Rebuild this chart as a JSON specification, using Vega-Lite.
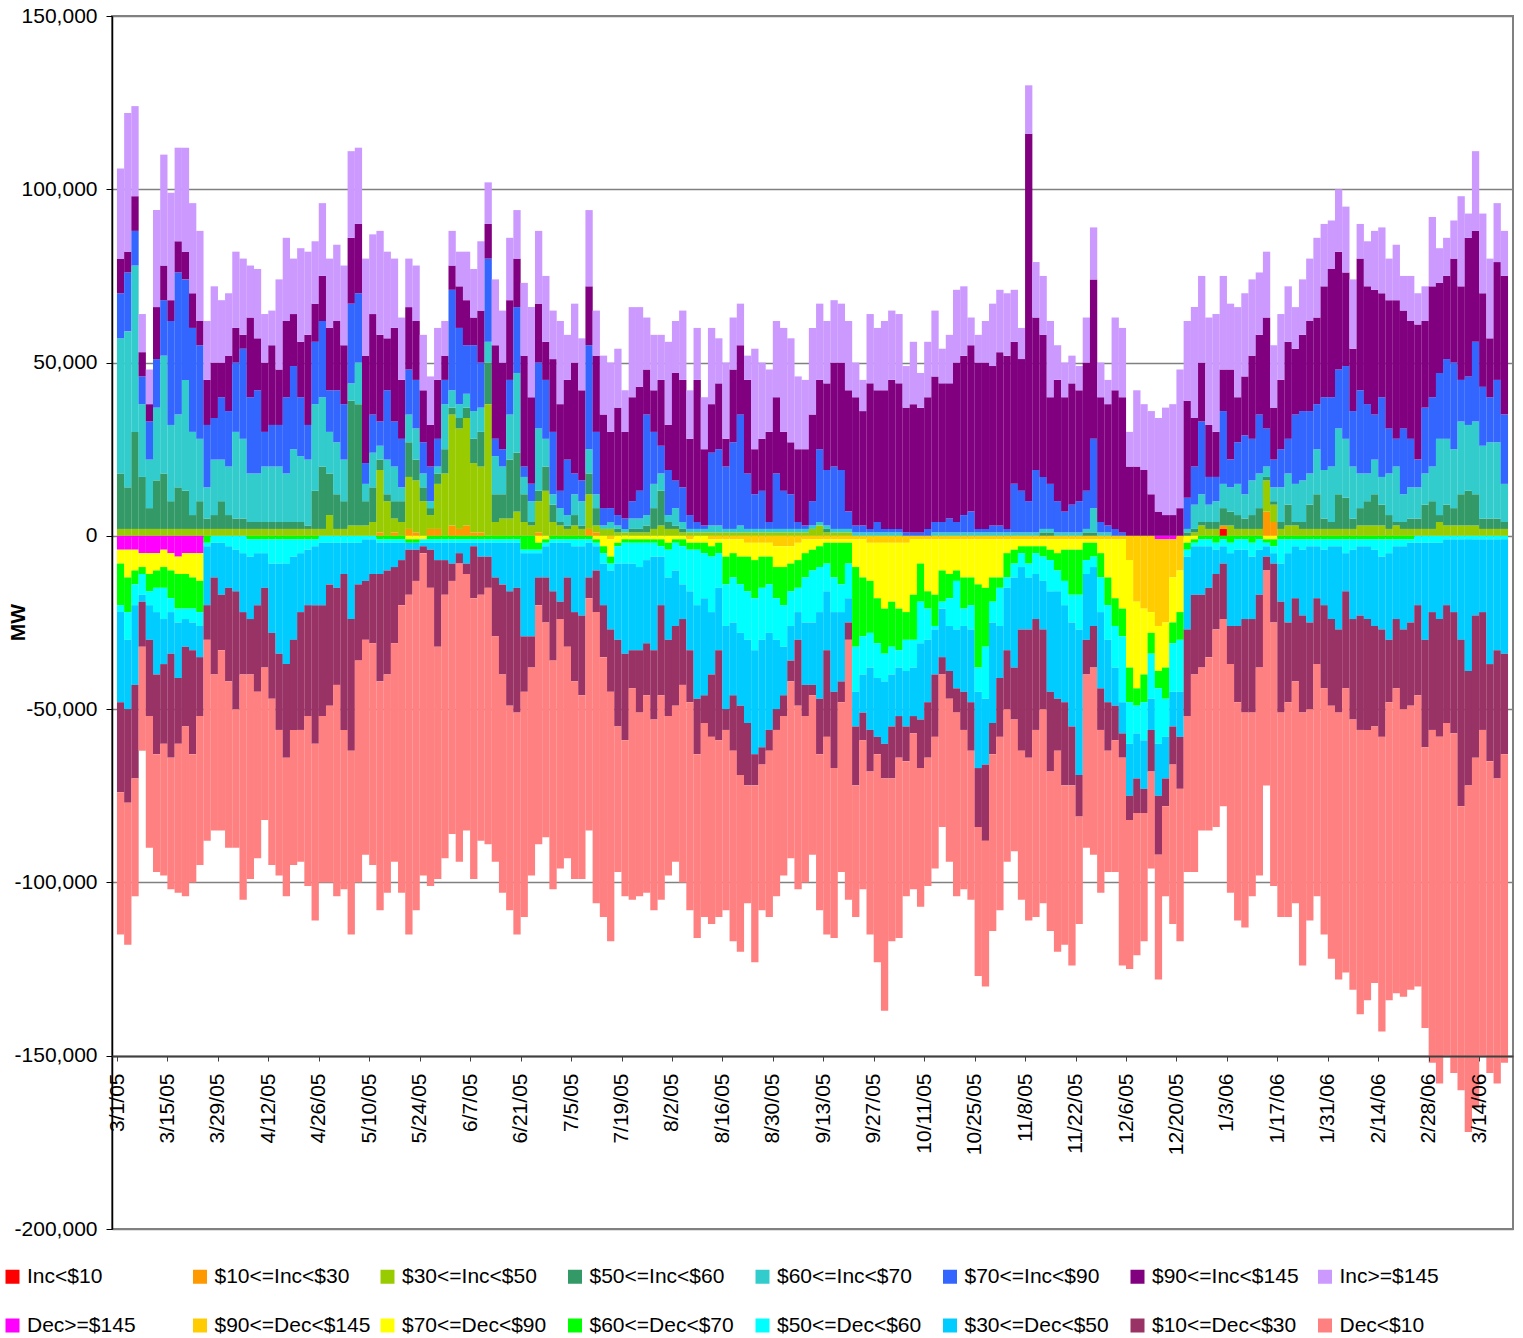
{
"$schema":"https://vega.github.io/schema/vega-lite/v6.json",
"width":1401,"height":1213,
"autosize":{"type":"none"},
"padding":{"left":112,"top":16,"right":10,"bottom":109},
"background":"white",
"config":{"font":"Liberation Sans","view":{"stroke":"#808080","strokeWidth":2},
"locale":{"number":{"decimal":".","thousands":",","grouping":[3],"currency":["$",""],"minus":"-"}}},
"data":{"values":[
{"t":"2005-03-02","c":2,"d":16,"e":39,"f":13,"g":10,"h":26,"i":-4,"k":-4,"l":-12,"m":-2,"n":-26,"o":-26,"p":-41},
{"t":"2005-03-04","c":2,"d":12,"e":45,"f":17,"g":6,"h":40,"i":-4,"k":-8,"l":-10,"m":-8,"n":-20,"o":-27,"p":-41},
{"t":"2005-03-06","c":2,"d":28,"e":48,"f":10,"g":10,"h":26,"i":-4,"k":-6,"l":-4,"m":-6,"n":-23,"o":-27,"p":-34},
{"t":"2005-03-08","c":2,"d":15,"e":21,"f":8,"g":7,"h":11,"i":-5,"k":-4,"l":-2,"m":-6,"n":-2,"o":-13,"p":-30},
{"t":"2005-03-10","c":2,"d":6,"e":14,"f":11,"g":5,"h":10,"i":-5,"k":-6,"l":-5,"m":-4,"n":-10,"o":-22,"p":-38},
{"t":"2005-03-12","c":2,"d":14,"e":21,"f":14,"g":15,"h":28,"i":-5,"k":-5,"l":-5,"m":-7,"n":-18,"o":-23,"p":-34},
{"t":"2005-03-14","c":2,"d":16,"e":34,"f":16,"g":10,"h":32,"i":-4,"k":-5,"l":-6,"m":-9,"n":-13,"o":-23,"p":-38},
{"t":"2005-03-16","c":2,"d":8,"e":22,"f":30,"g":6,"h":31,"i":-5,"k":-5,"l":-8,"m":-4,"n":-12,"o":-30,"p":-38},
{"t":"2005-03-18","c":2,"d":12,"e":21,"f":41,"g":9,"h":27,"i":-6,"k":-5,"l":-10,"m":-4,"n":-16,"o":-19,"p":-43},
{"t":"2005-03-20","c":2,"d":11,"e":32,"f":29,"g":8,"h":30,"i":-5,"k":-6,"l":-10,"m":-3,"n":-8,"o":-23,"p":-49},
{"t":"2005-03-22","c":2,"d":4,"e":24,"f":30,"g":10,"h":26,"i":-5,"k":-7,"l":-9,"m":-4,"n":-8,"o":-30,"p":-37},
{"t":"2005-03-24","c":2,"d":8,"e":18,"f":27,"g":7,"h":26,"i":-5,"k":-8,"l":-9,"m":-4,"n":-9,"o":-17,"p":-43},
{"t":"2005-03-26","c":2,"d":3,"e":9,"f":18,"g":13,"h":17,"l":-2,"m":-1,"n":-17,"o":-10,"p":-58},
{"t":"2005-03-28","c":2,"d":4,"e":16,"f":12,"g":16,"h":22,"m":-2,"n":-10,"o":-28,"p":-45},
{"t":"2005-03-30","c":2,"d":8,"e":12,"f":18,"g":10,"h":18,"m":-2,"n":-15,"o":-16,"p":-52},
{"t":"2005-04-01","c":2,"d":4,"e":14,"f":16,"g":16,"h":18,"m":-3,"n":-12,"o":-27,"p":-48},
{"t":"2005-04-03","c":2,"d":3,"e":25,"f":20,"g":10,"h":22,"m":-4,"n":-12,"o":-34,"p":-40},
{"t":"2005-04-05","c":2,"d":3,"e":23,"f":26,"g":4,"h":22,"m":-5,"n":-17,"o":-18,"p":-65},
{"t":"2005-04-07","c":2,"d":2,"e":14,"f":22,"g":23,"h":15,"l":-1,"m":-5,"n":-18,"o":-16,"p":-59},
{"t":"2005-04-09","c":2,"d":2,"e":14,"f":24,"g":15,"h":20,"l":-1,"m":-4,"n":-15,"o":-25,"p":-48},
{"t":"2005-04-11","c":2,"d":2,"e":16,"f":10,"g":20,"h":14,"l":-1,"m":-4,"n":-10,"o":-23,"p":-44},
{"t":"2005-04-13","c":2,"d":2,"e":16,"f":12,"g":23,"h":10,"l":-1,"m":-7,"n":-20,"o":-19,"p":-48},
{"t":"2005-04-15","c":2,"d":2,"e":16,"f":12,"g":16,"h":26,"l":-1,"m":-7,"n":-26,"o":-22,"p":-42},
{"t":"2005-04-17","c":2,"d":2,"e":14,"f":22,"g":22,"h":24,"l":-1,"m":-7,"n":-29,"o":-27,"p":-40},
{"t":"2005-04-19","c":2,"d":2,"e":21,"f":24,"g":15,"h":16,"l":-1,"m":-5,"n":-24,"o":-26,"p":-39},
{"t":"2005-04-21","c":2,"d":2,"e":19,"f":17,"g":16,"h":27,"l":-1,"m":-4,"n":-17,"o":-34,"p":-38},
{"t":"2005-04-23","c":2,"d":1,"e":19,"f":10,"g":26,"h":24,"l":-1,"m":-3,"n":-16,"o":-32,"p":-49},
{"t":"2005-04-25","c":2,"d":11,"e":25,"f":18,"g":11,"h":18,"l":-1,"m":-2,"n":-17,"o":-40,"p":-51},
{"t":"2005-04-27","c":2,"d":18,"e":20,"f":22,"g":13,"h":21,"m":-2,"n":-18,"o":-32,"p":-48},
{"t":"2005-04-29","c":6,"d":12,"e":12,"f":12,"g":18,"h":20,"m":-2,"n":-12,"o":-35,"p":-51},
{"t":"2005-05-01","c":2,"d":10,"e":15,"f":15,"g":20,"h":22,"m":-2,"n":-13,"o":-28,"p":-61},
{"t":"2005-05-03","c":2,"d":8,"e":12,"f":16,"g":17,"h":23,"m":-2,"n":-9,"o":-45,"p":-46},
{"t":"2005-05-05","c":3,"d":36,"e":5,"f":23,"g":19,"h":25,"m":-2,"n":-22,"o":-38,"p":-53},
{"t":"2005-05-07","c":3,"d":35,"e":12,"f":20,"g":20,"h":22,"m":-2,"n":-12,"o":-22,"p":-64},
{"t":"2005-05-09","c":3,"d":7,"e":5,"f":6,"g":31,"h":28,"m":-1,"n":-12,"o":-17,"p":-62},
{"t":"2005-05-11","c":4,"d":10,"e":10,"f":11,"g":29,"h":23,"m":-1,"n":-10,"o":-20,"p":-64},
{"t":"2005-05-13","b":1,"c":18,"d":3,"e":4,"f":7,"g":25,"h":30,"l":-1,"m":-1,"n":-9,"o":-31,"p":-66},
{"t":"2005-05-15","c":10,"d":2,"e":10,"f":20,"g":15,"h":25,"l":-1,"m":-1,"n":-8,"o":-30,"p":-63},
{"t":"2005-05-17","b":1,"c":4,"d":5,"e":10,"f":13,"g":27,"h":20,"l":-1,"m":-1,"n":-7,"o":-22,"p":-63},
{"t":"2005-05-19","c":4,"d":6,"e":4,"f":14,"g":17,"h":18,"l":-1,"m":-1,"n":-5,"o":-13,"p":-83},
{"t":"2005-05-21","b":2,"c":15,"d":10,"e":8,"f":13,"g":18,"h":14,"k":-1,"l":-1,"n":-2,"o":-13,"p":-98},
{"t":"2005-05-23","b":1,"c":15,"d":6,"e":9,"f":14,"g":17,"h":16,"k":-1,"l":-1,"n":-2,"o":-9,"p":-95},
{"t":"2005-05-25","c":10,"d":4,"e":4,"f":9,"g":15,"h":16,"k":-1,"m":-1,"n":-1,"o":-2,"p":-93},
{"t":"2005-05-27","b":2,"c":4,"d":2,"e":2,"f":10,"g":12,"h":14,"l":-1,"m":-1,"n":-2,"o":-11,"p":-86},
{"t":"2005-05-29","b":2,"c":13,"d":3,"e":2,"f":8,"g":17,"h":15,"l":-1,"m":-1,"n":-5,"o":-25,"p":-67},
{"t":"2005-05-31","c":18,"d":7,"e":13,"f":7,"g":7,"h":10,"l":-1,"m":-1,"n":-5,"o":-10,"p":-76},
{"t":"2005-06-02","b":3,"c":32,"d":2,"e":5,"f":29,"g":7,"h":10,"l":-1,"m":-1,"n":-6,"o":-5,"p":-73},
{"t":"2005-06-04","b":2,"c":29,"d":3,"e":4,"f":22,"g":12,"h":10,"l":-1,"m":-1,"n":-3,"o":-3,"p":-86},
{"t":"2005-06-06","b":3,"c":31,"d":3,"e":4,"f":14,"g":13,"h":14,"l":-1,"m":-1,"n":-6,"o":-3,"p":-74},
{"t":"2005-06-08","b":1,"c":20,"d":7,"e":8,"f":19,"g":8,"h":14,"l":-1,"m":-1,"n":-1,"o":-15,"p":-81},
{"t":"2005-06-10","b":1,"c":19,"d":10,"e":7,"f":13,"g":15,"h":20,"l":-1,"m":-1,"n":-4,"o":-11,"p":-71},
{"t":"2005-06-12","c":38,"d":12,"e":6,"f":24,"g":10,"h":12,"l":-1,"m":-1,"n":-4,"o":-9,"p":-74},
{"t":"2005-06-14","c":4,"d":8,"e":11,"f":5,"g":27,"h":19,"l":-1,"m":-1,"n":-10,"o":-17,"p":-65},
{"t":"2005-06-16","c":5,"d":7,"e":8,"f":5,"g":25,"h":15,"l":-1,"m":-1,"n":-12,"o":-26,"p":-63},
{"t":"2005-06-18","c":5,"d":17,"e":13,"f":10,"g":23,"h":18,"l":-1,"m":-1,"n":-14,"o":-33,"p":-59},
{"t":"2005-06-20","c":7,"d":17,"e":23,"f":19,"g":14,"h":14,"l":-1,"m":-1,"n":-13,"o":-36,"p":-64},
{"t":"2005-06-22","c":4,"d":8,"e":5,"f":3,"g":32,"h":21,"l":-4,"m":-1,"n":-24,"o":-16,"p":-65},
{"t":"2005-06-24","c":3,"d":1,"e":6,"f":5,"g":25,"h":26,"l":-4,"m":-1,"n":-24,"o":-9,"p":-60},
{"t":"2005-06-26","b":1,"c":9,"d":3,"e":18,"f":19,"g":17,"h":21,"k":-2,"l":-2,"m":-1,"n":-7,"o":-8,"p":-69},
{"t":"2005-06-28","c":13,"d":7,"e":8,"f":17,"g":11,"h":19,"k":-1,"l":-1,"m":-1,"n":-9,"o":-13,"p":-62},
{"t":"2005-06-30","c":4,"d":5,"e":3,"f":18,"g":21,"h":14,"l":-1,"m":-1,"n":-14,"o":-20,"p":-66},
{"t":"2005-07-02","c":3,"d":1,"e":4,"f":5,"g":25,"h":24,"l":-1,"m":-1,"n":-17,"o":-5,"p":-72},
{"t":"2005-07-04","c":2,"d":1,"e":3,"f":16,"g":23,"h":13,"l":-1,"m":-1,"n":-10,"o":-20,"p":-61},
{"t":"2005-07-06","c":3,"d":3,"e":6,"f":6,"g":32,"h":17,"l":-1,"m":-2,"n":-19,"o":-20,"p":-57},
{"t":"2005-07-08","c":2,"d":1,"e":7,"f":6,"g":26,"h":15,"l":-1,"m":-2,"n":-20,"o":-23,"p":-53},
{"t":"2005-07-10","b":2,"c":10,"d":6,"e":7,"f":30,"g":17,"h":22,"l":-1,"m":-1,"n":-10,"o":-6,"p":-67},
{"t":"2005-07-12","b":1,"c":2,"d":5,"e":4,"f":18,"g":22,"h":13,"k":-1,"l":-1,"m":-1,"n":-7,"o":-12,"p":-84},
{"t":"2005-07-14","c":2,"e":1,"f":5,"g":27,"h":17,"k":-3,"l":-2,"m":-3,"n":-12,"o":-15,"p":-75},
{"t":"2005-07-16","c":2,"e":2,"f":4,"g":22,"h":20,"j":-1,"k":-5,"l":-2,"m":-2,"n":-17,"o":-18,"p":-72},
{"t":"2005-07-18","c":1,"d":1,"e":1,"f":3,"g":31,"h":17,"k":-2,"l":-1,"m":-5,"n":-22,"o":-25,"p":-42},
{"t":"2005-07-20","c":1,"e":1,"f":3,"g":25,"h":12,"k":-1,"l":-1,"m":-6,"n":-26,"o":-25,"p":-45},
{"t":"2005-07-22","c":1,"d":1,"e":3,"f":5,"g":30,"h":26,"k":-1,"l":-1,"m":-6,"n":-25,"o":-11,"p":-61},
{"t":"2005-07-24","c":1,"d":1,"e":3,"f":8,"g":30,"h":23,"k":-1,"l":-1,"m":-7,"n":-24,"o":-18,"p":-53},
{"t":"2005-07-26","c":1,"d":2,"e":3,"f":29,"g":13,"h":15,"k":-1,"l":-1,"m":-5,"n":-24,"o":-15,"p":-57},
{"t":"2005-07-28","c":2,"d":6,"e":7,"f":15,"g":12,"h":16,"k":-1,"l":-1,"m":-4,"n":-27,"o":-20,"p":-55},
{"t":"2005-07-30","c":3,"d":10,"e":5,"f":8,"g":19,"h":13,"k":-1,"l":-2,"m":-3,"n":-14,"o":-26,"p":-59},
{"t":"2005-08-01","c":2,"d":2,"e":2,"f":13,"g":13,"h":24,"k":-2,"l":-2,"m":-8,"n":-18,"o":-22,"p":-46},
{"t":"2005-08-03","c":2,"d":1,"e":5,"f":8,"g":31,"h":15,"k":-1,"l":-1,"m":-8,"n":-16,"o":-23,"p":-45},
{"t":"2005-08-05","c":1,"d":1,"e":2,"f":10,"g":31,"h":20,"k":-1,"l":-2,"m":-11,"n":-10,"o":-19,"p":-57},
{"t":"2005-08-07","c":1,"e":1,"f":4,"g":22,"h":14,"j":-1,"k":-1,"l":-2,"m":-12,"n":-17,"o":-15,"p":-60},
{"t":"2005-08-09","c":1,"e":1,"f":2,"g":41,"h":15,"k":-2,"l":-2,"m":-16,"n":-27,"o":-16,"p":-53},
{"t":"2005-08-11","c":1,"e":1,"f":1,"g":22,"h":15,"k":-2,"l":-3,"m":-13,"n":-28,"o":-8,"p":-56},
{"t":"2005-08-13","c":1,"e":2,"f":21,"g":14,"h":22,"j":-1,"k":-2,"l":-3,"m":-16,"n":-18,"o":-18,"p":-54},
{"t":"2005-08-15","c":1,"e":2,"f":22,"g":19,"h":13,"j":-1,"k":-1,"l":-3,"m":-10,"n":-18,"o":-26,"p":-51},
{"t":"2005-08-17","c":1,"e":1,"f":18,"g":8,"h":22,"j":-1,"k":-5,"l":-8,"m":-12,"n":-24,"o":-6,"p":-52},
{"t":"2005-08-19","c":1,"e":1,"f":25,"g":21,"h":15,"j":-1,"k":-4,"l":-7,"m":-13,"n":-21,"o":-16,"p":-55},
{"t":"2005-08-21","c":1,"e":2,"f":32,"g":20,"h":12,"j":-1,"k":-5,"l":-8,"m":-14,"n":-21,"o":-20,"p":-51},
{"t":"2005-08-23","c":1,"e":1,"f":16,"g":27,"h":7,"j":-2,"k":-4,"l":-10,"m":-14,"n":-24,"o":-18,"p":-34},
{"t":"2005-08-25","c":1,"e":1,"f":10,"g":13,"h":29,"j":-2,"k":-5,"l":-11,"m":-15,"n":-30,"o":-9,"p":-51},
{"t":"2005-08-27","c":1,"e":1,"f":11,"g":15,"h":22,"j":-2,"k":-4,"l":-9,"m":-15,"n":-31,"o":-5,"p":-42},
{"t":"2005-08-29","c":1,"e":1,"f":2,"g":26,"h":18,"j":-2,"k":-4,"l":-8,"m":-14,"n":-28,"o":-6,"p":-48},
{"t":"2005-08-31","c":1,"e":1,"f":16,"g":22,"h":22,"j":-3,"k":-6,"l":-9,"m":-12,"n":-20,"o":-6,"p":-48},
{"t":"2005-09-02","c":1,"e":1,"f":11,"g":17,"h":30,"j":-3,"k":-6,"l":-11,"m":-12,"n":-14,"o":-6,"p":-46},
{"t":"2005-09-04","c":1,"e":1,"f":10,"g":15,"h":30,"j":-3,"k":-5,"l":-8,"m":-10,"n":-10,"o":-6,"p":-51},
{"t":"2005-09-06","c":1,"e":1,"f":2,"g":21,"h":21,"j":-2,"k":-5,"l":-8,"m":-7,"n":-8,"o":-19,"p":-53},
{"t":"2005-09-08","c":1,"e":1,"f":1,"g":22,"h":20,"j":-1,"k":-4,"l":-7,"m":-13,"n":-18,"o":-9,"p":-48},
{"t":"2005-09-10","c":2,"e":1,"f":7,"g":25,"h":25,"j":-1,"k":-3,"l":-6,"m":-15,"n":-18,"o":-3,"p":-46},
{"t":"2005-09-12","c":3,"e":1,"f":21,"g":20,"h":22,"j":-1,"k":-2,"l":-6,"m":-13,"n":-25,"o":-16,"p":-45},
{"t":"2005-09-14","c":1,"d":1,"e":1,"f":16,"g":25,"h":18,"j":-1,"k":-1,"l":-6,"m":-8,"n":-17,"o":-25,"p":-57},
{"t":"2005-09-16","c":1,"e":1,"f":18,"g":30,"h":18,"j":-1,"k":-1,"l":-10,"m":-10,"n":-23,"o":-22,"p":-49},
{"t":"2005-09-18","c":1,"e":1,"f":17,"g":31,"h":17,"j":-1,"k":-1,"l":-12,"m":-8,"n":-20,"o":-6,"p":-49},
{"t":"2005-09-20","c":1,"e":1,"f":5,"g":35,"h":20,"j":-1,"k":-1,"l":-6,"m":-10,"n":-7,"o":-5,"p":-75},
{"t":"2005-09-22","e":1,"f":2,"g":37,"h":10,"j":-1,"k":-8,"l":-23,"m":-13,"n":-10,"o":-17,"p":-38},
{"t":"2005-09-24","e":1,"f":2,"g":33,"h":9,"j":-1,"k":-11,"l":-17,"m":-11,"n":-11,"o":-8,"p":-43},
{"t":"2005-09-26","e":1,"f":1,"g":42,"h":20,"j":-2,"k":-11,"l":-15,"m":-10,"n":-18,"o":-12,"p":-47},
{"t":"2005-09-28","e":1,"f":3,"g":38,"h":18,"j":-2,"k":-16,"l":-13,"m":-10,"n":-17,"o":-5,"p":-60},
{"t":"2005-09-30","e":1,"f":1,"g":40,"h":20,"j":-2,"k":-19,"l":-13,"m":-8,"n":-18,"o":-10,"p":-67},
{"t":"2005-10-02","e":1,"f":1,"g":43,"h":20,"j":-2,"k":-17,"l":-13,"m":-8,"n":-15,"o":-15,"p":-47},
{"t":"2005-10-04","e":1,"f":1,"g":42,"h":20,"j":-2,"k":-19,"l":-12,"m":-5,"n":-14,"o":-12,"p":-52},
{"t":"2005-10-06","f":1,"g":36,"h":12,"j":-2,"k":-20,"l":-8,"m":-9,"n":-16,"o":-10,"p":-39},
{"t":"2005-10-08","f":1,"g":37,"h":18,"j":-1,"k":-16,"l":-13,"m":-8,"n":-14,"o":-5,"p":-45},
{"t":"2005-10-10","f":1,"g":36,"h":10,"j":-1,"k":-7,"l":-11,"m":-12,"n":-22,"o":-14,"p":-40},
{"t":"2005-10-12","f":2,"g":38,"h":16,"j":-1,"k":-15,"l":-5,"m":-9,"n":-18,"o":-16,"p":-37},
{"t":"2005-10-14","e":1,"f":3,"g":42,"h":19,"j":-1,"k":-16,"l":-9,"m":-1,"n":-13,"o":-18,"p":-38},
{"t":"2005-10-16","e":1,"f":3,"g":40,"h":10,"j":-1,"k":-9,"l":-9,"m":-2,"n":-14,"o":-5,"p":-44},
{"t":"2005-10-18","e":1,"f":4,"g":39,"h":14,"j":-1,"k":-10,"l":-7,"m":-8,"n":-13,"o":-8,"p":-47},
{"t":"2005-10-20","e":1,"f":3,"g":46,"h":21,"j":-1,"k":-9,"l":-3,"m":-14,"n":-17,"o":-7,"p":-53},
{"t":"2005-10-22","e":1,"f":5,"g":46,"h":20,"j":-1,"k":-11,"l":-9,"m":-5,"n":-19,"o":-11,"p":-46},
{"t":"2005-10-24","e":1,"f":6,"g":48,"h":8,"j":-1,"k":-11,"l":-8,"m":-7,"n":-21,"o":-14,"p":-43},
{"t":"2005-10-26","e":1,"f":1,"g":48,"h":8,"j":-1,"k":-13,"l":-24,"m":-7,"n":-22,"o":-17,"p":-43},
{"t":"2005-10-28","e":1,"f":1,"g":48,"h":12,"j":-1,"k":-14,"l":-17,"m":-15,"n":-19,"o":-22,"p":-42},
{"t":"2005-10-30","e":1,"f":2,"g":46,"h":18,"j":-1,"k":-11,"l":-7,"m":-6,"n":-29,"o":-9,"p":-51},
{"t":"2005-11-01","e":1,"f":2,"g":50,"h":18,"j":-1,"k":-11,"l":-3,"m":-11,"n":-15,"o":-17,"p":-50},
{"t":"2005-11-03","e":1,"f":1,"g":50,"h":18,"j":-1,"k":-4,"l":-7,"m":-3,"n":-18,"o":-17,"p":-44},
{"t":"2005-11-05","e":1,"f":14,"g":41,"h":15,"j":-1,"k":-3,"l":-4,"m":-4,"n":-26,"o":-15,"p":-38},
{"t":"2005-11-07","e":1,"f":12,"g":38,"h":9,"j":-1,"k":-2,"l":-2,"m":-4,"n":-18,"o":-35,"p":-43},
{"t":"2005-11-09","e":1,"f":9,"g":106,"h":14,"j":-1,"k":-2,"l":-5,"m":-4,"n":-15,"o":-37,"p":-47},
{"t":"2005-11-11","e":1,"f":18,"g":44,"h":16,"j":-1,"k":-2,"l":-2,"m":-6,"n":-13,"o":-32,"p":-54},
{"t":"2005-11-13","d":1,"e":1,"f":15,"g":41,"h":17,"j":-1,"k":-2,"l":-3,"m":-7,"n":-14,"o":-23,"p":-56},
{"t":"2005-11-15","d":1,"e":1,"f":13,"g":25,"h":22,"j":-1,"k":-3,"l":-3,"m":-9,"n":-29,"o":-23,"p":-46},
{"t":"2005-11-17","e":1,"f":9,"g":35,"h":10,"j":-1,"k":-4,"l":-5,"m":-6,"n":-31,"o":-15,"p":-58},
{"t":"2005-11-19","e":1,"f":6,"g":33,"h":10,"j":-1,"k":-3,"l":-9,"m":-7,"n":-28,"o":-24,"p":-46},
{"t":"2005-11-21","e":1,"f":8,"g":35,"h":8,"j":-1,"k":-3,"l":-13,"m":-8,"n":-30,"o":-17,"p":-52},
{"t":"2005-11-23","e":1,"f":9,"g":32,"h":7,"j":-1,"k":-3,"l":-13,"m":-10,"n":-42,"o":-12,"p":-31},
{"t":"2005-11-25","d":1,"e":1,"f":11,"g":37,"h":13,"j":-1,"k":-1,"l":-5,"m":-4,"n":-19,"o":-10,"p":-50},
{"t":"2005-11-27","d":1,"e":7,"f":20,"g":46,"h":15,"j":-1,"k":-1,"l":-4,"m":-3,"n":-17,"o":-12,"p":-54},
{"t":"2005-11-29","e":1,"f":3,"g":36,"h":10,"j":-1,"k":-4,"l":-7,"m":-10,"n":-22,"o":-12,"p":-47},
{"t":"2005-12-01","e":1,"f":2,"g":35,"h":7,"j":-1,"k":-11,"l":-8,"m":-10,"n":-18,"o":-14,"p":-35},
{"t":"2005-12-03","f":2,"g":40,"h":21,"j":-1,"k":-17,"l":-8,"m":-12,"n":-11,"o":-10,"p":-38},
{"t":"2005-12-05","f":1,"g":39,"h":20,"j":-1,"k":-20,"l":-8,"m":-19,"n":-9,"o":-7,"p":-60},
{"t":"2005-12-07","g":20,"h":10,"j":-7,"k":-31,"l":-10,"m":-12,"n":-15,"o":-7,"p":-43},
{"t":"2005-12-09","g":20,"h":22,"j":-19,"k":-25,"l":-5,"m":-8,"n":-13,"o":-10,"p":-41},
{"t":"2005-12-11","g":19,"h":19,"j":-21,"k":-19,"l":-8,"m":-11,"n":-14,"o":-7,"p":-37},
{"t":"2005-12-13","g":12,"h":24,"j":-22,"k":-6,"l":-6,"m":-13,"n":-9,"o":-12,"p":-28},
{"t":"2005-12-15","g":7,"h":27,"i":-1,"j":-25,"k":-13,"l":-5,"m":-16,"n":-15,"o":-17,"p":-36},
{"t":"2005-12-17","g":6,"h":31,"i":-1,"j":-24,"k":-13,"l":-9,"m":-11,"n":-12,"o":-8,"p":-26},
{"t":"2005-12-19","g":6,"h":32,"i":-1,"j":-11,"k":-13,"l":-6,"m":-14,"n":-10,"o":-11,"p":-46},
{"t":"2005-12-21","g":8,"h":40,"j":-10,"k":-12,"l":-8,"m":-15,"n":-13,"o":-15,"p":-44},
{"t":"2005-12-23","d":1,"e":1,"f":9,"g":28,"h":23,"k":-2,"l":-2,"m":-2,"n":-21,"o":-25,"p":-45},
{"t":"2005-12-25","c":1,"d":1,"e":7,"f":11,"g":14,"h":32,"k":-1,"l":-1,"m":-1,"n":-14,"o":-23,"p":-57},
{"t":"2005-12-27","c":3,"d":1,"e":8,"f":21,"g":17,"h":25,"l":-1,"m":-2,"n":-14,"o":-21,"p":-47},
{"t":"2005-12-29","c":2,"d":2,"e":5,"f":8,"g":15,"h":31,"l":-1,"m":-2,"n":-12,"o":-20,"p":-50},
{"t":"2005-12-31","c":2,"d":2,"e":6,"f":7,"g":13,"h":34,"l":-2,"m":-2,"n":-7,"o":-16,"p":-57},
{"t":"2006-01-02","a":2,"b":1,"d":5,"e":7,"f":21,"g":12,"h":27,"l":-1,"m":-2,"n":-5,"o":-16,"p":-54},
{"t":"2006-01-04","c":3,"d":4,"e":7,"f":8,"g":26,"h":19,"l":-2,"m":-3,"n":-21,"o":-11,"p":-66},
{"t":"2006-01-06","c":2,"d":4,"e":9,"f":12,"g":13,"h":26,"l":-1,"m":-3,"n":-22,"o":-22,"p":-63},
{"t":"2006-01-08","c":2,"d":3,"e":7,"f":17,"g":17,"h":24,"l":-1,"m":-3,"n":-20,"o":-27,"p":-62},
{"t":"2006-01-10","c":2,"d":4,"e":10,"f":12,"g":24,"h":22,"l":-2,"m":-4,"n":-18,"o":-27,"p":-53},
{"t":"2006-01-12","c":2,"d":6,"e":10,"f":17,"g":23,"h":18,"l":-1,"m":-3,"n":-13,"o":-21,"p":-60},
{"t":"2006-01-14","b":7,"c":9,"d":1,"e":3,"f":11,"g":32,"h":19,"k":-1,"l":-1,"m":-1,"n":-3,"o":-4,"p":-62},
{"t":"2006-01-16","b":4,"c":5,"d":1,"e":4,"f":8,"g":15,"h":18,"k":-1,"l":-2,"m":-2,"n":-3,"o":-17,"p":-76},
{"t":"2006-01-18","c":2,"d":2,"e":10,"f":11,"g":20,"h":19,"l":-1,"m":-7,"n":-11,"o":-32,"p":-59},
{"t":"2006-01-20","c":3,"d":6,"e":9,"f":10,"g":28,"h":16,"l":-1,"m":-4,"n":-20,"o":-23,"p":-62},
{"t":"2006-01-22","c":3,"d":1,"e":11,"f":20,"g":19,"h":12,"l":-1,"m":-2,"n":-15,"o":-24,"p":-64},
{"t":"2006-01-24","c":2,"d":2,"e":12,"f":20,"g":22,"h":16,"l":-1,"m":-3,"n":-19,"o":-28,"p":-73},
{"t":"2006-01-26","c":2,"d":7,"e":9,"f":18,"g":26,"h":18,"l":-1,"m":-2,"n":-22,"o":-25,"p":-61},
{"t":"2006-01-28","c":2,"d":10,"e":13,"f":13,"g":25,"h":23,"l":-1,"m":-2,"n":-15,"o":-19,"p":-67},
{"t":"2006-01-30","c":2,"d":3,"e":14,"f":21,"g":32,"h":18,"l":-1,"m":-3,"n":-16,"o":-24,"p":-71},
{"t":"2006-02-01","c":2,"d":2,"e":16,"f":20,"g":37,"h":14,"l":-1,"m":-2,"n":-21,"o":-25,"p":-73},
{"t":"2006-02-03","c":2,"d":10,"e":19,"f":17,"g":34,"h":18,"l":-1,"m":-2,"n":-24,"o":-24,"p":-77},
{"t":"2006-02-05","c":2,"d":9,"e":17,"f":21,"g":27,"h":19,"l":-1,"m":-4,"n":-11,"o":-28,"p":-82},
{"t":"2006-02-07","c":2,"d":3,"e":15,"f":16,"g":18,"h":20,"l":-1,"m":-3,"n":-20,"o":-29,"p":-78},
{"t":"2006-02-09","c":3,"d":5,"e":10,"f":24,"g":38,"h":10,"l":-1,"m":-2,"n":-20,"o":-33,"p":-82},
{"t":"2006-02-11","c":3,"d":7,"e":8,"f":20,"g":34,"h":13,"l":-1,"m":-2,"n":-21,"o":-32,"p":-78},
{"t":"2006-02-13","c":3,"d":9,"e":10,"f":13,"g":36,"h":17,"l":-1,"m":-3,"n":-22,"o":-29,"p":-74},
{"t":"2006-02-15","c":3,"d":6,"e":8,"f":23,"g":30,"h":19,"l":-1,"m":-5,"n":-21,"o":-31,"p":-85},
{"t":"2006-02-17","c":2,"d":4,"e":12,"f":13,"g":37,"h":12,"l":-1,"m":-4,"n":-25,"o":-18,"p":-86},
{"t":"2006-02-19","c":3,"d":1,"e":16,"f":8,"g":40,"h":16,"l":-1,"m":-2,"n":-21,"o":-20,"p":-88},
{"t":"2006-02-21","c":2,"d":2,"e":8,"f":19,"g":34,"h":10,"l":-1,"m":-2,"n":-24,"o":-23,"p":-83},
{"t":"2006-02-23","c":2,"d":3,"e":9,"f":14,"g":34,"h":13,"l":-1,"m":-1,"n":-23,"o":-24,"p":-82},
{"t":"2006-02-25","c":2,"d":3,"e":9,"f":8,"g":39,"h":9,"m":-2,"n":-18,"o":-26,"p":-84},
{"t":"2006-02-27","c":2,"d":7,"e":9,"f":19,"g":25,"h":10,"m":-2,"n":-28,"o":-31,"p":-81},
{"t":"2006-03-01","c":2,"d":8,"e":10,"f":20,"g":32,"h":20,"m":-2,"n":-20,"o":-34,"p":-96},
{"t":"2006-03-03","c":4,"d":2,"e":22,"f":19,"g":26,"h":10,"m":-2,"n":-22,"o":-34,"p":-100},
{"t":"2006-03-05","c":3,"d":6,"e":19,"f":23,"g":24,"h":11,"m":-1,"n":-19,"o":-34,"p":-96},
{"t":"2006-03-07","c":3,"d":5,"e":17,"f":25,"g":30,"h":11,"m":-1,"n":-21,"o":-35,"p":-98},
{"t":"2006-03-09","c":3,"d":9,"e":21,"f":12,"g":27,"h":26,"m":-1,"n":-29,"o":-48,"p":-82},
{"t":"2006-03-11","c":3,"d":10,"e":19,"f":14,"g":40,"h":7,"m":-1,"n":-38,"o":-33,"p":-100},
{"t":"2006-03-13","c":3,"d":9,"e":21,"f":23,"g":32,"h":23,"m":-1,"n":-22,"o":-41,"p":-101},
{"t":"2006-03-15","c":2,"d":3,"e":21,"f":17,"g":27,"h":23,"m":-1,"n":-21,"o":-34,"p":-94},
{"t":"2006-03-17","c":2,"d":3,"e":22,"f":13,"g":17,"h":23,"m":-1,"n":-36,"o":-28,"p":-90},
{"t":"2006-03-19","c":2,"d":3,"e":22,"f":18,"g":34,"h":17,"m":-1,"n":-32,"o":-37,"p":-88},
{"t":"2006-03-21","c":2,"d":2,"e":11,"f":20,"g":40,"h":13,"m":-1,"n":-33,"o":-29,"p":-89}
]},
"transform":[
{"fold":["a","b","c","d","e","f","g","h","i","j","k","l","m","n","o","p"],"as":["s","v"]},
{"filter":"isValid(datum.v)"},
{"lookup":"s","from":{"data":{"values":[
{"s":"a","name":"Inc<$10","o":1},{"s":"b","name":"$10<=Inc<$30","o":2},{"s":"c","name":"$30<=Inc<$50","o":3},{"s":"d","name":"$50<=Inc<$60","o":4},
{"s":"e","name":"$60<=Inc<$70","o":5},{"s":"f","name":"$70<=Inc<$90","o":6},{"s":"g","name":"$90<=Inc<$145","o":7},{"s":"h","name":"Inc>=$145","o":8},
{"s":"i","name":"Dec>=$145","o":9},{"s":"j","name":"$90<=Dec<$145","o":10},{"s":"k","name":"$70<=Dec<$90","o":11},{"s":"l","name":"$60<=Dec<$70","o":12},
{"s":"m","name":"$50<=Dec<$60","o":13},{"s":"n","name":"$30<=Dec<$50","o":14},{"s":"o","name":"$10<=Dec<$30","o":15},{"s":"p","name":"Dec<$10","o":16}]},
"key":"s","fields":["name","o"]}}
],
"mark":{"type":"bar","size":7.3},
"encoding":{
"x":{"field":"t","type":"temporal",
"scale":{"type":"utc","domain":[{"year":2005,"month":3,"date":1,"utc":true},{"year":2006,"month":3,"date":22,"utc":true}],"nice":false},
"axis":{"title":null,"grid":false,"offset":-173,"zindex":1,"labelAngle":-90,"labelAlign":"right","labelBaseline":"middle","labelFontSize":21,"labelColor":"black","labelPadding":12,"tickSize":5,"tickColor":"#404040","domainColor":"#404040","domainWidth":2,"labelOverlap":false,"labelFlush":false,"labelBound":false,"format":"%-m/%-d/%y",
"values":[{"year":2005,"month":3,"date":1,"utc":true},{"year":2005,"month":3,"date":15,"utc":true},{"year":2005,"month":3,"date":29,"utc":true},{"year":2005,"month":4,"date":12,"utc":true},{"year":2005,"month":4,"date":26,"utc":true},{"year":2005,"month":5,"date":10,"utc":true},{"year":2005,"month":5,"date":24,"utc":true},{"year":2005,"month":6,"date":7,"utc":true},{"year":2005,"month":6,"date":21,"utc":true},{"year":2005,"month":7,"date":5,"utc":true},{"year":2005,"month":7,"date":19,"utc":true},{"year":2005,"month":8,"date":2,"utc":true},{"year":2005,"month":8,"date":16,"utc":true},{"year":2005,"month":8,"date":30,"utc":true},{"year":2005,"month":9,"date":13,"utc":true},{"year":2005,"month":9,"date":27,"utc":true},{"year":2005,"month":10,"date":11,"utc":true},{"year":2005,"month":10,"date":25,"utc":true},{"year":2005,"month":11,"date":8,"utc":true},{"year":2005,"month":11,"date":22,"utc":true},{"year":2005,"month":12,"date":6,"utc":true},{"year":2005,"month":12,"date":20,"utc":true},{"year":2006,"month":1,"date":3,"utc":true},{"year":2006,"month":1,"date":17,"utc":true},{"year":2006,"month":1,"date":31,"utc":true},{"year":2006,"month":2,"date":14,"utc":true},{"year":2006,"month":2,"date":28,"utc":true},{"year":2006,"month":3,"date":14,"utc":true}]}},
"y":{"field":"v","type":"quantitative","stack":"zero",
"scale":{"domain":[-200,150],"nice":false,"zero":false},
"axis":{"values":[-200,-150,-100,-50,0,50,100,150],"labelExpr":"format(datum.value*1000, ',')","labelFontSize":21,"labelColor":"black","labelPadding":9,"tickSize":6,"tickColor":"black","domainColor":"black","domainWidth":1.5,"grid":true,"gridColor":"#808080","gridWidth":1.5,
"title":"MW","titleFontSize":21,"titleFontWeight":"bold","titleColor":"black","titleX":-94,"titleY":606,"titleAngle":-90,"titleAlign":"center","titleBaseline":"middle"}},
"color":{"field":"name","type":"nominal",
"scale":{"domain":["Inc<$10","$10<=Inc<$30","$30<=Inc<$50","$50<=Inc<$60","$60<=Inc<$70","$70<=Inc<$90","$90<=Inc<$145","Inc>=$145","Dec>=$145","$90<=Dec<$145","$70<=Dec<$90","$60<=Dec<$70","$50<=Dec<$60","$30<=Dec<$50","$10<=Dec<$30","Dec<$10"],
"range":["#FF0000","#FF9900","#99CC00","#339966","#33CCCC","#3366FF","#800080","#CC99FF","#FF00FF","#FFCC00","#FFFF00","#00FF00","#00FFFF","#00CCFF","#993366","#FF8080"]},
"legend":{"title":null,"orient":"none","legendX":-110,"legendY":1250,"direction":"horizontal","columns":8,"symbolType":"square","symbolSize":196,"symbolStrokeWidth":0,"symbolOpacity":1,"labelFontSize":21,"labelColor":"black","labelOffset":4,"columnPadding":6.5,"rowPadding":27,"gridAlign":"all","labelLimit":400,"padding":0}},
"order":{"field":"o","type":"quantitative"}
}
}
